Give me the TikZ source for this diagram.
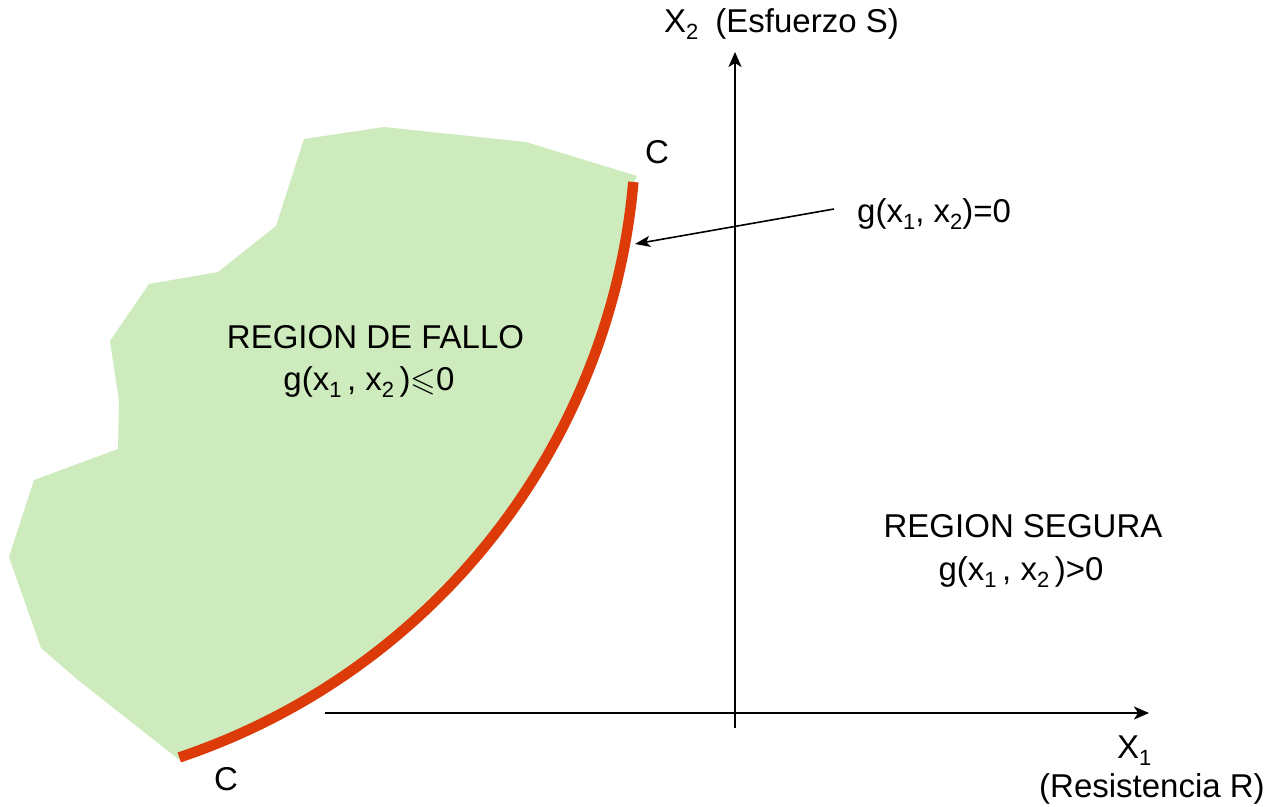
\documentclass[tikz,border=0pt]{standalone}
\usepackage{fontspec}
\usepackage{amssymb}
\setmainfont{Liberation Sans}
\usetikzlibrary{arrows.meta}
\definecolor{fallgreen}{RGB}{205,235,188}
\definecolor{limred}{RGB}{221,58,10}
\newcommand{\sbs}[1]{\raisebox{-0.23em}{\fontsize{22}{22}\selectfont #1}}
\begin{document}
\begin{tikzpicture}[x=1pt,y=-1pt,
  txt/.style={font=\fontsize{33}{39}\selectfont, inner sep=0pt},
  axis/.style={line width=2pt, -{Stealth[length=15pt,width=13pt,inset=4pt]}},
  pointer/.style={line width=1.6pt, -{Stealth[length=15pt,width=11pt,inset=3.5pt]}}]
\useasboundingbox (0,0) rectangle (1266,806);
% failure region
\fill[fallgreen] (637,176) -- (526,142) -- (384,127) -- (304,139) -- (276,226) -- (218,272)
  -- (149,284) -- (110,341) -- (119,401) -- (118,449) -- (34,480) -- (9,557) -- (41,648)
  -- (78,680) -- (177,758)
  -- plot[domain=71.5:5.0, samples=80] ({-34+671*cos(\x)},{123+671*sin(\x)}) -- cycle;
% limit state curve
\draw[limred, line width=10.5pt] plot[domain=5.06:71.5, samples=100] ({-33+669*cos(\x)},{123+669*sin(\x)});
% axes
\coordinate (o1) at (325,713);
\coordinate (x1end) at (1149,713);
\coordinate (o2) at (735,728);
\coordinate (x2end) at (735,52);
\draw[axis] (o1) -- (x1end);
\draw[axis] (o2) -- (x2end);
% labels
\node[txt, anchor=base west] (x2lab) at (664,32) {X\sbs{2}\hspace{17pt}(Esfuerzo S)};
\node[txt, anchor=base west] (x1lab) at (1117,758) {X\sbs{1}};
\node[txt, anchor=base west] (rlab) at (1039,797) {(Resistencia R)};
\node[txt, anchor=base west] (ctop) at (645,163) {C};
\node[txt, anchor=base west] (cbot) at (214,790) {C};
\node[txt, anchor=base west] (glab) at (857,222) {g(x\sbs{1}, x\sbs{2})=0};
\node[txt, anchor=base] (fallo) at (375.5,348) {REGION DE FALLO};
\node[txt, anchor=base] (gfallo) at (369,390) {g(x\sbs{1}\,, x\sbs{2}\,)$\leqslant$0};
\node[txt, anchor=base] (segura) at (1023,537) {REGION SEGURA};
\node[txt, anchor=base] (gsegura) at (1021,580) {g(x\sbs{1}\,, x\sbs{2}\,)>0};
% pointer
\coordinate (pstart) at (834,209);
\coordinate (ptip) at (635,244);
\draw[pointer] (pstart) -- (ptip);
\end{tikzpicture}
\end{document}
